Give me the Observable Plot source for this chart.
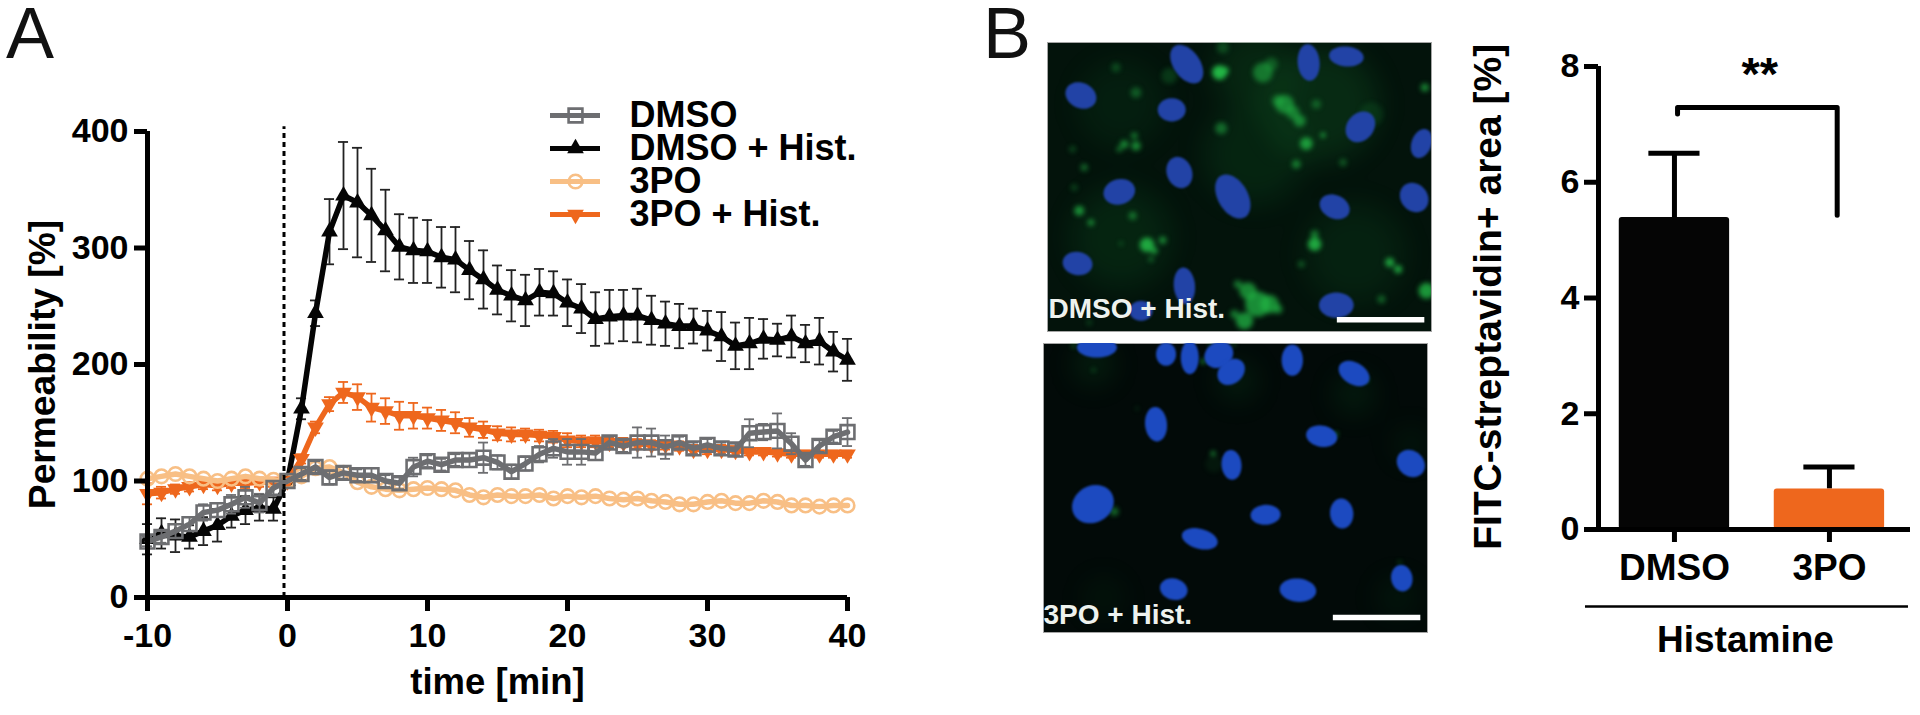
<!DOCTYPE html>
<html><head><meta charset="utf-8">
<script src="https://cdn.jsdelivr.net/npm/d3@7"></script>
<script src="https://cdn.jsdelivr.net/npm/@observablehq/plot@0.6"></script>
<style>
html,body{margin:0;padding:0;background:#fff}
#fig{position:relative;width:1920px;height:715px;overflow:hidden;font-family:"Liberation Sans",Arial,sans-serif}
.letter{position:absolute;font-size:72px;line-height:60px;color:#111}
</style></head><body><div id="fig"></div>
<script>
// ---------- Panel A data ----------
const minutes = d3.range(-10, 41);
const seriesNames = ["DMSO", "DMSO + Hist.", "3PO", "3PO + Hist."];
const dmso = [48,52,57,63,73,75,80,86,81,94,100,106,112,103,107,105,105,100,98,112,117,114,118,118,120,116,108,115,123,128,125,125,124,133,130,133,133,129,133,128,131,128,127,141,142,143,132,118,130,138,142];
const dmsoErr = [4,5,6,6,7,6,8,9,8,6,0,5,5,6,5,5,6,5,5,8,5,5,5,6,13,6,6,6,7,8,11,11,6,5,5,13,12,10,5,5,5,5,5,12,7,15,9,5,5,5,12];
const dmsoHist = [50,55,53,52,57,62,70,75,77,76,100,162,244,314,345,339,328,315,301,298,297,292,290,281,273,264,259,255,262,261,253,248,239,241,242,242,238,235,233,233,229,224,216,218,222,221,224,218,220,211,204];
const dmsoHistErr = [13,13,14,10,12,14,10,12,11,10,0,9,11,28,46,47,40,35,28,28,27,26,28,25,25,21,22,22,20,19,20,21,23,23,22,23,21,19,19,15,17,21,20,22,17,14,18,16,20,17,18];
const po = [102,104,106,104,102,100,102,104,102,101,100,104,111,112,107,99,95,93,92,93,94,93,92,88,86,88,87,87,88,85,87,86,87,85,84,85,83,82,80,80,82,83,81,81,83,82,79,79,78,79,79];
const poErr = minutes.map(() => 2);
const poHist = [89,90,93,95,97,96,98,98,99,99,100,119,146,166,176,172,163,160,156,156,154,152,150,146,144,141,140,140,139,138,135,134,134,133,133,132,131,131,130,127,127,127,126,125,125,124,123,123,123,123,123];
const poHistErr = [9,5,4,4,4,4,4,4,4,4,0,4,5,6,9,11,12,11,12,11,9,9,9,8,7,6,6,5,5,5,6,5,5,4,4,4,4,4,4,4,4,4,4,3,3,3,3,3,3,3,3];
const histamineOnset = -0.25;
const permTicks = [0, 100, 200, 300, 400];
const timeTicks = [-10, 0, 10, 20, 30, 40];

// ---------- Panel B bar data ----------
const barCategories = ["DMSO", "3PO"];
const barValues = [5.39, 0.70];
const barErrors = [1.11, 0.38];
const areaTicks = [0, 2, 4, 6, 8];
const bracketIndex = [0.02, 0.02, 1.05, 1.05];
const bracketValue = [7.18, 7.29, 7.29, 5.43];

// ---------- Micrograph features ----------
const nucleiTop = [[497,130,65,40,55],[862,125,55,33,85],[975,107,52,30,5],[180,224,48,38,25],[452,267,42,35,0],[1017,318,50,40,-50],[1200,368,45,30,-70],[475,455,48,38,70],[635,527,72,45,60],[295,513,48,38,-15],[940,558,47,35,25],[1178,530,47,40,50],[170,728,45,35,10],[490,795,55,32,85],[945,853,52,38,0],[360,870,35,30,0]];
const hazeTop = [[700,400,150,.1],[300,650,150,.1],[900,250,170,.14],[1000,700,150,.09],[300,250,130,.07],[700,150,120,.12]];
const greenTop = [[595,155,22,1],[610,150,12,1],[725,155,30,.55],[750,130,20,.35],[605,80,18,.3],[285,140,14,.3],[345,215,16,.4],[445,165,24,.22],[790,250,28,.65],[770,240,18,.5],[815,275,20,.6],[885,250,14,.4],[835,300,18,.65],[855,368,19,.8],[905,343,7,1],[825,430,13,.6],[965,425,11,.4],[600,322,18,.5],[310,370,12,.7],[345,375,14,.7],[340,345,10,.6],[295,385,8,.6],[155,385,10,.3],[190,440,11,.5],[160,500,10,.3],[175,570,15,.75],[210,605,10,.7],[335,585,12,.55],[378,672,22,.9],[400,690,10,.8],[425,658,11,.7],[300,668,5,.6],[390,715,8,.5],[880,670,20,.9],[880,640,12,.6],[840,730,10,.4],[1105,725,14,.85],[1130,745,12,.85],[1215,810,24,.8],[1210,200,12,.7],[1080,835,12,.45],[710,850,38,.75],[680,810,26,.7],[745,850,28,.7],[770,865,14,.65],[650,790,12,.6],[670,900,26,.75],[640,880,13,.6],[1050,280,36,.13],[205,905,8,.3]];
const nucleiBottom = [[230,50,60,30,0],[437,70,35,30,90],[508,80,50,27,90],[595,72,45,38,-30],[632,123,45,35,-40],[815,88,47,32,90],[1000,128,50,33,30],[407,280,52,33,85],[903,316,47,32,10],[1170,398,45,38,40],[633,402,45,30,85],[218,520,65,55,-30],[735,552,45,30,-3],[963,548,45,35,85],[538,624,55,30,15],[1143,742,40,32,80],[460,775,42,32,15],[832,778,55,35,5]];
const hazeBottom = [[650,150,60,.1],[1000,190,60,.1],[1170,340,50,.08],[220,100,60,.12],[1130,800,60,.07],[250,800,60,.06]];
const greenBottom = [[580,400,26,.08],[160,45,5,.9],[220,118,4,.8],[548,92,7,.9],[570,42,4,.9],[640,42,4,.9],[1037,148,5,.9],[945,310,6,.9],[578,368,7,.9],[282,542,13,.55],[350,233,3,.8],[1137,695,4,.8]];
const scaleBarTop = [948, 1210];
const scaleBarBottom = [938, 1200];

// ---------- Colours ----------
const cBlack = "#050505", cGrey = "#6d6e71", cLight = "#f8bf85", cOrange = "#ee671d";
const fontFamily = '"Liberation Sans", Arial, sans-serif';
const fig = document.getElementById("fig");
function place(svg, left, top) {
  svg.style.position = "absolute"; svg.style.left = left + "px"; svg.style.top = top + "px";
  svg.style.overflow = "visible"; svg.style.background = "transparent";
  fig.appendChild(svg);
}

// ---------- Series marks ----------
function rows(values, errs) { return minutes.map((t, i) => ({t, v: values[i], lo: values[i] - errs[i], hi: values[i] + errs[i]})); }
function errMarks(data, color) {
  const cap = 0.36;
  return [
    Plot.ruleX(data, {x: "t", y1: "lo", y2: "hi", stroke: color, strokeWidth: 1.8}),
    Plot.ruleY(data, {y: "hi", x1: d => d.t - cap, x2: d => d.t + cap, stroke: color, strokeWidth: 1.8}),
    Plot.ruleY(data, {y: "lo", x1: d => d.t - cap, x2: d => d.t + cap, stroke: color, strokeWidth: 1.8})
  ];
}
function lineOf(data, color) { return Plot.line(data, {x: "t", y: "v", stroke: color, strokeWidth: 5.5, strokeLinejoin: "round"}); }

const rowsGrey = rows(dmso, dmsoErr), rowsBlack = rows(dmsoHist, dmsoHistErr),
      rowsLight = rows(po, poErr), rowsOrange = rows(poHist, poHistErr);

const dotBlack = {x: "t", y: "v", symbol: "triangle", r: 6.2, fill: cBlack};
const dotOrange = {x: "t", y: "v", symbol: "triangle", rotate: 180, r: 6.2, fill: cOrange};
const dotLight = {x: "t", y: "v", symbol: "circle", r: 6.8, fill: "none", stroke: cLight, strokeWidth: 2.6};
const dotGrey = {x: "t", y: "v", symbol: "square", r: 7.8, fill: "none", stroke: cGrey, strokeWidth: 2.6};

place(Plot.plot({
  width: 950, height: 715,
  marginLeft: 147, marginRight: 103, marginTop: 131, marginBottom: 118,
  style: {fontFamily},
  x: {domain: [-10, 40]}, y: {domain: [0, 400]},
  marks: [
    ...errMarks(rowsBlack, "#222"), lineOf(rowsBlack, cBlack), Plot.dot(rowsBlack, dotBlack),
    ...errMarks(rowsOrange, cOrange), lineOf(rowsOrange, cOrange), Plot.dot(rowsOrange, dotOrange),
    lineOf(rowsLight, cLight), Plot.dot(rowsLight, dotLight),
    ...errMarks(rowsGrey, cGrey), lineOf(rowsGrey, cGrey), Plot.dot(rowsGrey, dotGrey),
    Plot.ruleX([histamineOnset], {y1: 0, y2: 404, stroke: "#000", strokeWidth: 3, strokeDasharray: "5 4"}),
    Plot.ruleX([-10], {y1: 0, y2: 400, stroke: "#000", strokeWidth: 5}),
    Plot.ruleY([0], {x1: -10, x2: 40, stroke: "#000", strokeWidth: 5}),
    Plot.axisY({ticks: permTicks, label: null, tickSize: 13, tickPadding: 6, strokeWidth: 5, stroke: "#000", fontSize: 34, fontWeight: "bold", fill: "#000"}),
    Plot.axisX({ticks: timeTicks, tickFormat: d => String(d), label: null, tickSize: 14, tickPadding: 11, strokeWidth: 5, stroke: "#000", fontSize: 34, fontWeight: "bold", fill: "#000"}),
    Plot.text(["time [min]"], {x: 15, y: -73, text: d => d, fontSize: 36.5, fontWeight: "bold", fill: "#000"}),
    Plot.text(["Permeability [%]"], {x: -17.45, y: 200, text: d => d, rotate: -90, fontSize: 37.2, fontWeight: "bold", fill: "#000"})
  ]
}), 0, 0);

// ---------- Legend ----------
const legendColors = [cGrey, cBlack, cLight, cOrange];
const legendRows = seriesNames.map((name, i) => ({name, color: legendColors[i]}));
place(Plot.plot({
  width: 320, height: 140, margin: 0, marginLeft: 10, marginRight: 10,
  style: {fontFamily},
  x: {domain: [0, 1], range: [10, 60], axis: null},
  y: {type: "point", padding: 0, domain: seriesNames, range: [19, 120], axis: null},
  marks: [
    Plot.ruleY(legendRows, {y: "name", x1: 0, x2: 1, stroke: "color", strokeWidth: 5}),
    Plot.dot([legendRows[0]], {x: () => 0.5, y: "name", symbol: "square", r: 7.8, fill: "none", stroke: cGrey, strokeWidth: 2.6}),
    Plot.dot([legendRows[1]], {x: () => 0.5, y: "name", symbol: "triangle", r: 6.2, fill: cBlack}),
    Plot.dot([legendRows[2]], {x: () => 0.5, y: "name", symbol: "circle", r: 6.8, fill: "none", stroke: cLight, strokeWidth: 2.6}),
    Plot.dot([legendRows[3]], {x: () => 0.5, y: "name", symbol: "triangle", rotate: 180, r: 6.2, fill: cOrange}),
    Plot.text(legendRows, {x: () => 1.58, y: "name", text: "name", textAnchor: "start", fontSize: 36, fontWeight: "bold", fill: "#000"})
  ]
}), 540, 95);

// ---------- Micrographs ----------
const ellipse = k => ({draw(ctx, size) {
  const a = Math.sqrt(size / Math.PI), b = a * k;
  for (let i = 0; i < 48; i++) {
    const th = i / 48 * 2 * Math.PI, x = a * Math.cos(th), y = b * Math.sin(th);
    i ? ctx.lineTo(x, y) : ctx.moveTo(x, y);
  }
  ctx.closePath();
}});
function micrograph(nuclei, haze, green, bar, barRow, label, labelX, labelY, xDom, yDom, bg, nucColor, left, top) {
  const toDots = list => list.map(([x, y, r, o]) => ({x, y, r: r / 3, o}));
  return place(Plot.plot({
    width: 384, height: 289, margin: 0,
    style: {fontFamily},
    x: {domain: xDom, axis: null},
    y: {domain: yDom, axis: null},
    r: {type: "identity"}, opacity: {type: "identity"},
    marks: [
      Plot.frame({fill: bg, stroke: "#a5a5a5", strokeWidth: 1}),
      Plot.dot(toDots(haze), {x: "x", y: "y", r: "r", fill: "#22b645", fillOpacity: "o", imageFilter: "blur(14px)", clip: "frame"}),
      Plot.dot(toDots(green), {x: "x", y: "y", r: "r", fill: "#22b645", fillOpacity: "o", imageFilter: "blur(2.4px)", clip: "frame"}),
      ...nuclei.map(([x, y, a, b, ang]) => Plot.dot([{x, y}], {
        x: "x", y: "y", r: a / 3, rotate: ang, symbol: ellipse(b / a), fill: nucColor, imageFilter: "blur(1.2px)", clip: "frame"
      })),
      Plot.ruleY([barRow], {x1: bar[0], x2: bar[1], stroke: "#fff", strokeWidth: 5.5}),
      Plot.text([label], {x: labelX, y: labelY, text: d => d, textAnchor: "start", lineAnchor: "bottom", fontSize: 28, fontWeight: "bold", fill: "#eef2ee"})
    ]
  }), left, top);
}
micrograph(nucleiTop, hazeTop, greenTop, scaleBarTop, 897, "DMSO + Hist.", 83, 891, [80, 1230], [932, 65], "#03130b", "#2243a6", 1047, 42);
micrograph(nucleiBottom, hazeBottom, greenBottom, scaleBarBottom, 860, "3PO + Hist.", 70, 879, [70, 1220], [905, 38], "#020a08", "#1c4ac0", 1043, 343);

// ---------- Bar chart ----------
const barRows = barCategories.map((c, i) => ({c, i, v: barValues[i], hi: barValues[i] + barErrors[i]}));
const barColors = [cBlack, cOrange];
const halfBar = 0.356, capHalf = 0.165;
place(Plot.plot({
  width: 480, height: 715,
  marginLeft: 158, marginRight: 10, marginTop: 66, marginBottom: 186,
  style: {fontFamily},
  x: {domain: [-0.49, 1.523]}, y: {domain: [0, 8]},
  marks: [
    Plot.ruleX(barRows, {x: "i", y1: "v", y2: "hi", stroke: "#000", strokeWidth: 5}),
    Plot.ruleY(barRows, {y: "hi", x1: d => d.i - capHalf, x2: d => d.i + capHalf, stroke: "#000", strokeWidth: 5}),
    Plot.rectY(barRows, {x1: d => d.i - halfBar, x2: d => d.i + halfBar, y: "v", fill: (d) => barColors[d.i], rx: 3}),
    Plot.ruleX([-0.49], {y1: 0, y2: 8, stroke: "#000", strokeWidth: 5}),
    Plot.ruleY([0], {x1: -0.49, x2: 1.523, stroke: "#000", strokeWidth: 5}),
    Plot.axisY({ticks: areaTicks, label: null, tickSize: 14, tickPadding: 5, strokeWidth: 5, stroke: "#000", fontSize: 34, fontWeight: "bold", fill: "#000"}),
    Plot.axisX({ticks: [0, 1], tickFormat: i => barCategories[i], label: null, tickSize: 13, tickPadding: 11, strokeWidth: 5, stroke: "#000", fontSize: 37, fontWeight: "bold", fill: "#000"}),
    Plot.line(bracketIndex.map((x, k) => ({x, y: bracketValue[k]})), {x: "x", y: "y", stroke: "#000", strokeWidth: 5, strokeLinejoin: "round"}),
    Plot.text(["**"], {x: 0.55, y: 7.85, text: d => d, fontSize: 47, fontWeight: "bold", fill: "#000"}),
    Plot.ruleY([-1.33], {x1: -0.574, x2: 1.51, stroke: "#000", strokeWidth: 2.5}),
    Plot.text(["Histamine"], {x: 0.458, y: -1.92, text: d => d, fontSize: 37, fontWeight: "bold", fill: "#000"}),
    Plot.text(["FITC-streptavidin+ area [%]"], {x: -1.2, y: 4.02, text: d => d, rotate: -90, fontSize: 39, fontWeight: "bold", fill: "#000"})
  ]
}), 1440, 0);

// ---------- Panel letters ----------
[["A", 6, 3], ["B", 983, 3]].forEach(([t, x, y]) => {
  const d = document.createElement("div");
  d.className = "letter"; d.textContent = t; d.style.left = x + "px"; d.style.top = y + "px";
  fig.appendChild(d);
});
</script></body></html>
